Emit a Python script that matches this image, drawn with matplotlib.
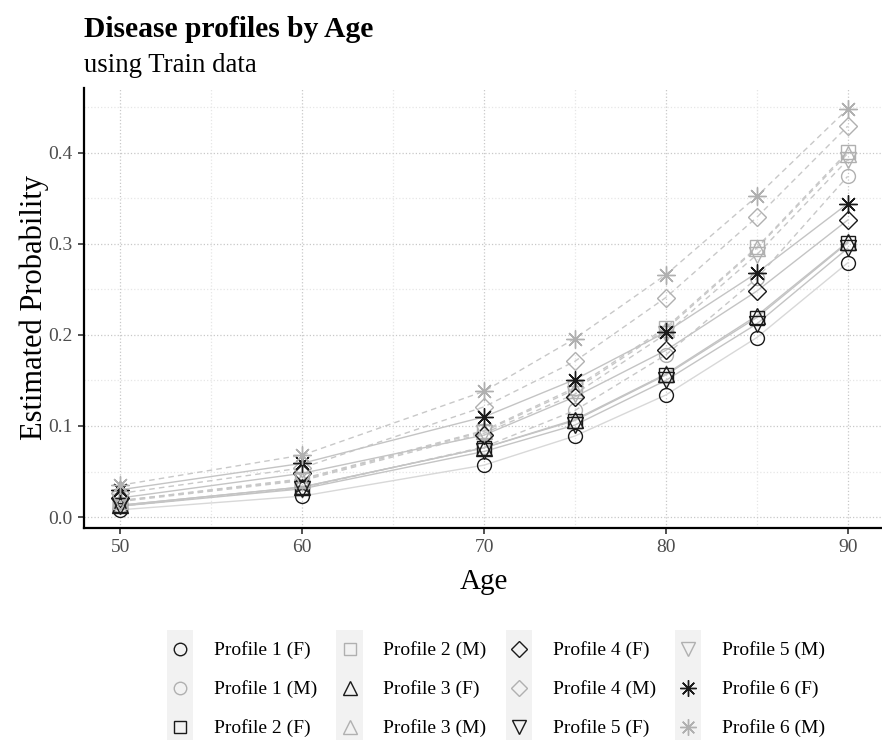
import matplotlib
matplotlib.use("Agg")
import matplotlib.pyplot as plt
from matplotlib.lines import Line2D
from matplotlib.patches import Rectangle
from matplotlib.legend_handler import HandlerBase

plt.rcParams['font.family'] = ['Liberation Serif', 'DejaVu Serif']

# Data
ages = [50, 60, 70, 75, 80, 85, 90]
labels = ['Profile 1 (F)', 'Profile 1 (M)', 'Profile 2 (F)', 'Profile 2 (M)',
          'Profile 3 (F)', 'Profile 3 (M)', 'Profile 4 (F)', 'Profile 4 (M)',
          'Profile 5 (F)', 'Profile 5 (M)', 'Profile 6 (F)', 'Profile 6 (M)']
p1_f = [0.008, 0.023, 0.057, 0.089, 0.134, 0.197, 0.279]
p1_m = [0.012, 0.032, 0.077, 0.117, 0.178, 0.262, 0.374]
p2_f = [0.013, 0.033, 0.076, 0.106, 0.156, 0.219, 0.301]
p2_m = [0.018, 0.042, 0.095, 0.142, 0.208, 0.296, 0.401]
p3_f = [0.013, 0.033, 0.076, 0.107, 0.157, 0.221, 0.302]
p3_m = [0.018, 0.041, 0.094, 0.140, 0.206, 0.295, 0.399]
p4_f = [0.021, 0.048, 0.090, 0.132, 0.183, 0.248, 0.326]
p4_m = [0.026, 0.054, 0.121, 0.171, 0.241, 0.329, 0.429]
p5_f = [0.012, 0.031, 0.072, 0.101, 0.150, 0.212, 0.295]
p5_m = [0.017, 0.040, 0.092, 0.135, 0.201, 0.288, 0.392]
p6_f = [0.030, 0.059, 0.110, 0.151, 0.203, 0.268, 0.344]
p6_m = [0.035, 0.068, 0.138, 0.196, 0.266, 0.352, 0.448]
series = [p1_f, p1_m, p2_f, p2_m, p3_f, p3_m, p4_f, p4_m, p5_f, p5_m, p6_f, p6_m]

# marker per profile (shape, size)
shapes = {1: ('o', 10), 2: ('s', 10), 3: ('^', 11), 4: ('D', 9.5), 5: ('v', 11), 6: ((8, 2, 0), 13)}


class KeyHandler(HandlerBase):
    # grey key box with the marker centred on it, like ggplot's legend keys
    def create_artists(self, legend, orig, xdescent, ydescent, width, height, fontsize, trans):
        rect = Rectangle((-xdescent, -ydescent), width, height, facecolor='#f2f2f2',
                         edgecolor='none', transform=trans)
        mk = Line2D([width / 2 - xdescent], [height / 2 - ydescent], ls='none',
                    marker=orig.get_marker(), ms=orig.get_markersize(), mfc='none',
                    mec=orig.get_markeredgecolor(), mew=orig.get_markeredgewidth(),
                    transform=trans)
        return [rect, mk]


fig = plt.figure(figsize=(8.82, 7.4), dpi=100)
ax = fig.add_axes([84 / 882, 1 - 528 / 740, 800 / 882, 440 / 740])

handles = []
for i, (lab, vals) in enumerate(zip(labels, series)):
    prof = i // 2 + 1
    male = i % 2 == 1
    mk, ms = shapes[prof]
    mcol = '#b0b0b0' if male else '#1a1a1a'
    lcol = '#c8c8c8' if male else '#c4c4c4'
    if prof == 1 and not male:
        lcol = '#d8d8d8'
    ls = (0, (4, 3)) if male else '-'
    ax.plot(ages, vals, color=lcol, lw=1.0, ls=ls, zorder=2)
    ax.plot(ages, vals, ls='none', marker=mk, ms=ms, mfc='none', mec=mcol, mew=1.0, zorder=3)
    handles.append(Line2D([], [], ls='none', marker=mk, ms=ms * 0.9, mfc='none', mec=mcol, mew=1.0))

ax.set_xlim(48, 92)
ax.set_ylim(-0.012, 0.471)
ax.set_xticks([50, 60, 70, 80, 90])
ax.set_yticks([0.0, 0.1, 0.2, 0.3, 0.4])
ax.set_yticklabels(['0.0', '0.1', '0.2', '0.3', '0.4'])
ax.set_xticks([55, 65, 75, 85], minor=True)
ax.set_yticks([0.05, 0.15, 0.25, 0.35, 0.45], minor=True)
ax.grid(which='major', color='#c8c8c8', ls=':', lw=0.9)
ax.grid(which='minor', color='#e6e6e6', ls=':', lw=0.9)
ax.set_axisbelow(True)
ax.tick_params(which='major', direction='out', length=4, width=1.2, color='#333333',
               labelsize=14, labelcolor='#4d4d4d', pad=4)
ax.tick_params(which='minor', length=0)
for s in ['top', 'right']:
    ax.spines[s].set_visible(False)
for s in ['left', 'bottom']:
    ax.spines[s].set_linewidth(1.6)
    ax.spines[s].set_color('black')

ax.set_xlabel('Age', fontsize=21, labelpad=9)
ax.set_ylabel('Estimated Probability', fontsize=22, labelpad=0)

fig.text(84 / 882, 1 - 37 / 740, 'Disease profiles by Age', fontsize=21.3, fontweight='bold', ha='left', va='baseline')
fig.text(84 / 882, 1 - 72 / 740, 'using Train data', fontsize=19.3, ha='left', va='baseline')

leg = fig.legend(handles, labels, ncol=4, loc='center', bbox_to_anchor=(496 / 882, 1 - 688 / 740),
                 handler_map={Line2D: KeyHandler()},
                 frameon=False, fontsize=14, handlelength=1.35, handleheight=2.7,
                 labelspacing=0.0, handletextpad=1.05, columnspacing=1.0)

fig.savefig('out.png', dpi=100)
